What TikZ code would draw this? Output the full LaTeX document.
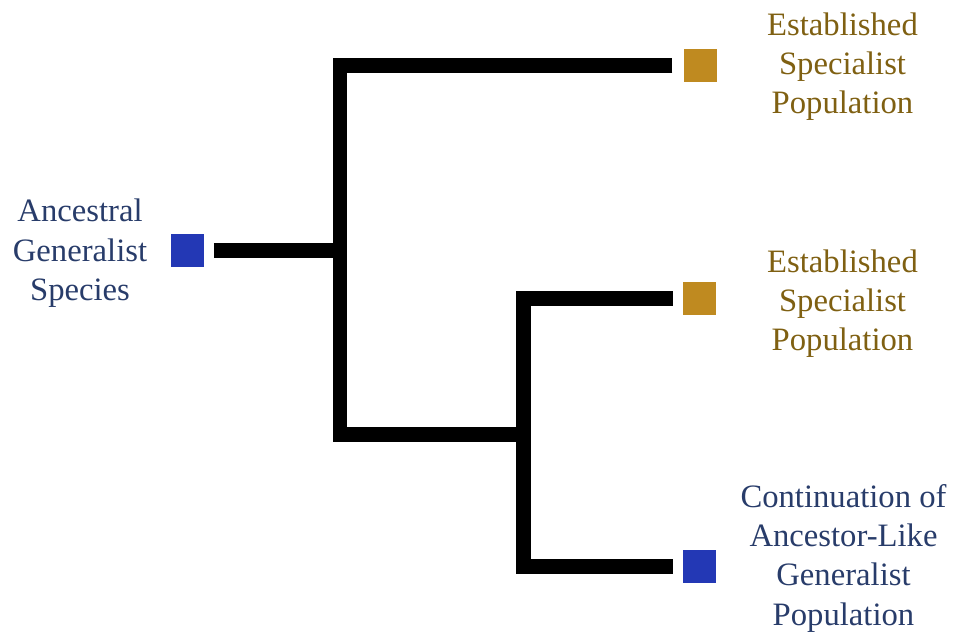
\documentclass[tikz,border=0pt]{standalone}
\usepackage{fontspec}
\setmainfont{Liberation Serif}
\definecolor{genblue}{HTML}{2338B5}
\definecolor{specgold}{HTML}{BF8A20}
\definecolor{genbluetext}{HTML}{283C6A}
\definecolor{specgoldtext}{HTML}{7F6012}
\begin{document}
\begin{tikzpicture}[x=0.75pt, y=-0.75pt,
  tip/.style={rectangle, minimum size=24.75pt, inner sep=0pt, draw=none},
  generalist/.style={tip, fill=genblue},
  specialist/.style={tip, fill=specgold},
  label/.style={align=center, inner sep=0pt,
    font=\fontsize{24.5}{29.5}\selectfont},
  gentext/.style={label, text=genbluetext},
  spectext/.style={label, text=specgoldtext},
  branch/.style={line width=11pt, line join=miter, line cap=butt, draw=black}]
  \useasboundingbox (0,0) rectangle (956,634);

  % tips of the tree
  \node[generalist] (root) at (187,250.7) {};
  \node[specialist] (spA) at (700.5,65.5) {};
  \node[specialist] (spB) at (699.5,298.8) {};
  \node[generalist] (cont) at (699.5,566.5) {};

  % branching points
  \coordinate (split1) at (340,250.7);
  \coordinate (low1) at (340,434.5);
  \coordinate (split2) at (523.5,434.5);
  \coordinate (low2) at (523.5,566.5);

  % branches
  \draw[branch, shorten <=7.5pt] (root.east) -- (split1);
  \draw[branch, shorten <=8.5pt] (spA.west) -| (low1) -- (split2);
  \draw[branch, shorten <=7.5pt, shorten >=7.5pt] (spB.west) -| (low2) -- (cont.west);

  % labels
  \node[gentext] (rootlabel) at (80,253.4) {Ancestral\\Generalist\\Species};
  \node[spectext] (spAlabel) at (842.5,66.7) {Established\\Specialist\\Population};
  \node[spectext] (spBlabel) at (842.5,303.7) {Established\\Specialist\\Population};
  \node[gentext] (contlabel) at (843.5,558) {Continuation of\\Ancestor-Like\\Generalist\\Population};
\end{tikzpicture}
\end{document}
